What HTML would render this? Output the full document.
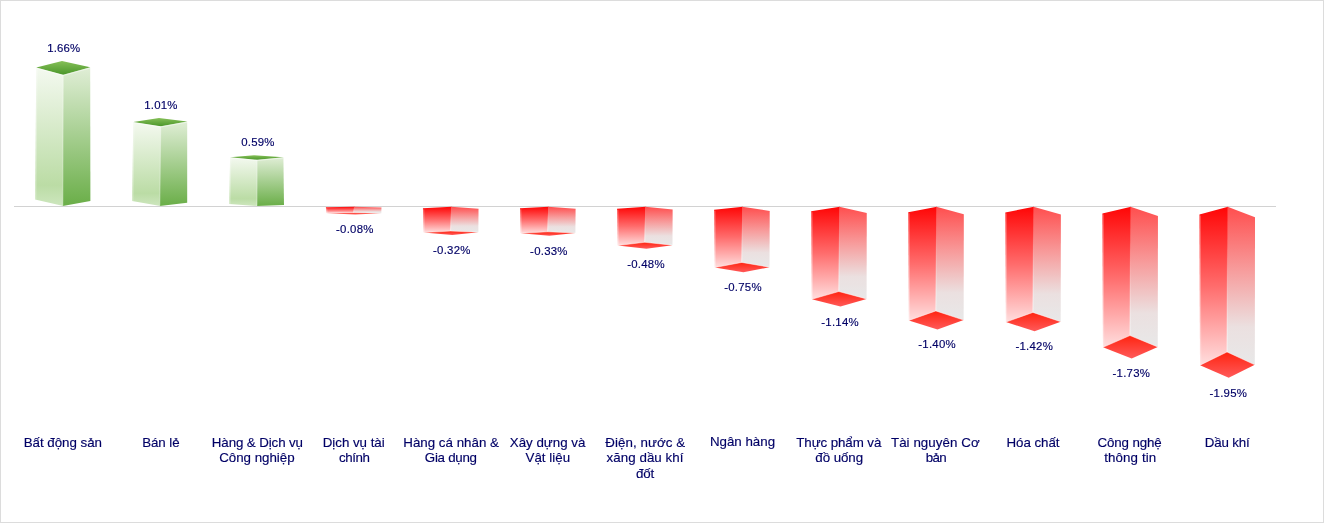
<!DOCTYPE html>
<html lang="vi"><head><meta charset="utf-8"><title>Chart</title>
<style>
html,body{margin:0;padding:0;background:#fff;}
body{width:1324px;height:523px;overflow:hidden;position:relative;}
svg{display:block;position:absolute;left:0;top:0;}
.frame{position:absolute;left:0;top:0;width:1324px;height:523px;border:1px solid #dcdcdc;box-sizing:border-box;}
text{font-family:"Liberation Sans",Arial,sans-serif;fill:#000066;stroke:#000066;stroke-width:0.15px;text-anchor:middle;}
.dl text{font-size:11.4px;}
.hl{fill:none;stroke:#fff;stroke-opacity:0.45;stroke-width:1;}
.hl2{stroke:#fff;stroke-opacity:0.3;stroke-width:1.2;}
.cl text{font-size:13.33px;}
</style></head><body>
<svg width="1324" height="523" viewBox="0 0 1324 523">
<defs>
<linearGradient id="gt" x1="0" y1="0" x2="0" y2="1"><stop offset="0" stop-color="#86c058"/><stop offset="1" stop-color="#4a962a"/></linearGradient>
<linearGradient id="gl" x1="0" y1="0" x2="0" y2="1"><stop offset="0" stop-color="#f4f9f0"/><stop offset="0.85" stop-color="#bbdca5"/><stop offset="1" stop-color="#cde6be"/></linearGradient>
<linearGradient id="gr" x1="0" y1="0" x2="0" y2="1"><stop offset="0" stop-color="#e0eed6"/><stop offset="1" stop-color="#6aae48"/></linearGradient>
<linearGradient id="rl" x1="0" y1="0" x2="0" y2="1"><stop offset="0" stop-color="#ff0606"/><stop offset="0.5" stop-color="#ff6c6c"/><stop offset="1" stop-color="#ffdede"/></linearGradient>
<linearGradient id="rr" x1="0" y1="0" x2="0" y2="1"><stop offset="0" stop-color="#ff4e4e"/><stop offset="0.4" stop-color="#f79c9c"/><stop offset="0.76" stop-color="#ebe0e0"/><stop offset="1" stop-color="#e8e8e8"/></linearGradient>
<linearGradient id="ce" x1="0" y1="0" x2="0" y2="1"><stop offset="0.25" stop-color="#fff" stop-opacity="0"/><stop offset="1" stop-color="#fff" stop-opacity="0.5"/></linearGradient>
<linearGradient id="rb" x1="0" y1="0" x2="0" y2="1"><stop offset="0" stop-color="#ff2410"/><stop offset="1" stop-color="#ff5a5a"/></linearGradient>
</defs>
<rect x="14" y="206" width="1262" height="1" fill="#d2d2d2"/>
<g><polygon points="36.30,67.50 63.80,74.80 63.40,205.90 35.05,199.50" fill="url(#gl)"/>
<polygon points="63.20,74.80 90.20,67.30 90.40,201.00 62.80,205.90" fill="url(#gr)"/>
<polygon points="36.30,67.50 62.00,60.90 90.20,67.30 63.20,74.80" fill="url(#gt)"/>
<polyline points="36.30,68.20 63.20,75.50 90.20,68.00" class="hl"/>
<line x1="63.20" y1="74.80" x2="62.80" y2="205.90" class="hl2"/>
<line x1="37.00" y1="68.50" x2="35.75" y2="199.50" class="hl2"/>
<polygon points="133.30,122.05 161.30,126.30 160.40,205.90 132.05,201.00" fill="url(#gl)"/>
<polygon points="160.70,126.30 187.20,121.50 187.20,202.70 159.80,205.90" fill="url(#gr)"/>
<polygon points="133.30,122.05 159.00,117.90 187.20,121.50 160.70,126.30" fill="url(#gt)"/>
<polyline points="133.30,122.75 160.70,127.00 187.20,122.20" class="hl"/>
<line x1="160.70" y1="126.30" x2="159.80" y2="205.90" class="hl2"/>
<line x1="134.00" y1="123.05" x2="132.75" y2="201.00" class="hl2"/>
<polygon points="230.10,157.20 257.70,159.80 257.60,206.00 229.20,204.00" fill="url(#gl)"/>
<polygon points="257.10,159.80 283.40,157.20 284.00,204.90 257.00,206.00" fill="url(#gr)"/>
<polygon points="230.10,157.20 254.20,155.30 283.40,157.20 257.10,159.80" fill="url(#gt)"/>
<polyline points="230.10,157.90 257.10,160.50 283.40,157.90" class="hl"/>
<line x1="257.10" y1="159.80" x2="257.00" y2="206.00" class="hl2"/>
<line x1="230.80" y1="158.20" x2="229.90" y2="204.00" class="hl2"/>
<polygon points="325.88,207.30 354.58,206.80 354.08,212.70 326.48,213.30" fill="url(#rl)"/>
<polygon points="353.98,206.80 381.48,207.42 381.28,213.20 353.48,212.70" fill="url(#rr)"/>
<polygon points="326.48,213.30 353.48,212.70 381.28,213.20 355.18,214.40" fill="url(#rb)"/>
<polyline points="326.48,213.30 353.48,212.70 381.28,213.20" class="hl"/>
<polygon points="353.38,206.80 354.58,206.80 354.08,212.70 352.88,212.70" fill="url(#ce)"/>
<line x1="326.58" y1="208.30" x2="327.18" y2="213.30" class="hl2"/>
<polygon points="422.94,208.22 451.64,206.80 451.14,231.08 423.54,232.55" fill="url(#rl)"/>
<polygon points="451.04,206.80 478.54,208.66 478.34,232.15 450.54,231.08" fill="url(#rr)"/>
<polygon points="423.54,232.55 450.54,231.08 478.34,232.15 452.24,234.98" fill="url(#rb)"/>
<polyline points="423.54,232.55 450.54,231.08 478.34,232.15" class="hl"/>
<polygon points="450.44,206.80 451.64,206.80 451.14,231.08 449.94,231.08" fill="url(#ce)"/>
<line x1="423.64" y1="209.22" x2="424.24" y2="232.55" class="hl2"/>
<polygon points="520.00,208.25 548.70,206.80 548.20,231.84 520.60,233.36" fill="url(#rl)"/>
<polygon points="548.10,206.80 575.60,208.72 575.40,232.96 547.60,231.84" fill="url(#rr)"/>
<polygon points="520.60,233.36 547.60,231.84 575.40,232.96 549.30,235.87" fill="url(#rb)"/>
<polyline points="520.60,233.36 547.60,231.84 575.40,232.96" class="hl"/>
<polygon points="547.50,206.80 548.70,206.80 548.20,231.84 547.00,231.84" fill="url(#ce)"/>
<line x1="520.70" y1="209.25" x2="521.30" y2="233.36" class="hl2"/>
<polygon points="617.06,208.82 645.76,206.80 645.26,242.31 617.66,245.57" fill="url(#rl)"/>
<polygon points="645.16,206.80 672.66,209.50 672.46,245.17 644.66,242.31" fill="url(#rr)"/>
<polygon points="617.66,245.57 644.66,242.31 672.46,245.17 646.36,248.64" fill="url(#rb)"/>
<polyline points="617.66,245.57 644.66,242.31 672.46,245.17" class="hl"/>
<polygon points="644.56,206.80 645.76,206.80 645.26,242.31 644.06,242.31" fill="url(#ce)"/>
<line x1="617.76" y1="209.82" x2="618.36" y2="245.57" class="hl2"/>
<polygon points="714.12,209.85 742.82,206.80 742.32,262.45 714.72,267.55" fill="url(#rl)"/>
<polygon points="742.22,206.80 769.72,210.90 769.52,267.15 741.72,262.45" fill="url(#rr)"/>
<polygon points="714.72,267.55 741.72,262.45 769.52,267.15 743.42,272.35" fill="url(#rb)"/>
<polyline points="714.72,267.55 741.72,262.45 769.52,267.15" class="hl"/>
<polygon points="741.62,206.80 742.82,206.80 742.32,262.45 741.12,262.45" fill="url(#ce)"/>
<line x1="714.82" y1="210.85" x2="715.42" y2="267.55" class="hl2"/>
<polygon points="811.18,211.33 839.88,206.80 839.38,291.54 811.78,299.30" fill="url(#rl)"/>
<polygon points="839.28,206.80 866.78,212.93 866.58,298.90 838.78,291.54" fill="url(#rr)"/>
<polygon points="811.78,299.30 838.78,291.54 866.58,298.90 840.48,306.59" fill="url(#rb)"/>
<polyline points="811.78,299.30 838.78,291.54 866.58,298.90" class="hl"/>
<polygon points="838.68,206.80 839.88,206.80 839.38,291.54 838.18,291.54" fill="url(#ce)"/>
<line x1="811.88" y1="212.33" x2="812.48" y2="299.30" class="hl2"/>
<polygon points="908.24,212.32 936.94,206.80 936.44,310.94 908.84,320.46" fill="url(#rl)"/>
<polygon points="936.34,206.80 963.84,214.28 963.64,320.06 935.84,310.94" fill="url(#rr)"/>
<polygon points="908.84,320.46 935.84,310.94 963.64,320.06 937.54,329.42" fill="url(#rb)"/>
<polyline points="908.84,320.46 935.84,310.94 963.64,320.06" class="hl"/>
<polygon points="935.74,206.80 936.94,206.80 936.44,310.94 935.24,310.94" fill="url(#ce)"/>
<line x1="908.94" y1="213.32" x2="909.54" y2="320.46" class="hl2"/>
<polygon points="1005.30,212.40 1034.00,206.80 1033.50,312.43 1005.90,322.09" fill="url(#rl)"/>
<polygon points="1033.40,206.80 1060.90,214.38 1060.70,321.69 1032.90,312.43" fill="url(#rr)"/>
<polygon points="1005.90,322.09 1032.90,312.43 1060.70,321.69 1034.60,331.18" fill="url(#rb)"/>
<polyline points="1005.90,322.09 1032.90,312.43 1060.70,321.69" class="hl"/>
<polygon points="1032.80,206.80 1034.00,206.80 1033.50,312.43 1032.30,312.43" fill="url(#ce)"/>
<line x1="1006.00" y1="213.40" x2="1006.60" y2="322.09" class="hl2"/>
<polygon points="1102.36,213.57 1131.06,206.80 1130.56,335.56 1102.96,347.32" fill="url(#rl)"/>
<polygon points="1130.46,206.80 1157.96,216.00 1157.76,346.92 1129.96,335.56" fill="url(#rr)"/>
<polygon points="1102.96,347.32 1129.96,335.56 1157.76,346.92 1131.66,358.39" fill="url(#rb)"/>
<polyline points="1102.96,347.32 1129.96,335.56 1157.76,346.92" class="hl"/>
<polygon points="1129.86,206.80 1131.06,206.80 1130.56,335.56 1129.36,335.56" fill="url(#ce)"/>
<line x1="1103.06" y1="214.57" x2="1103.66" y2="347.32" class="hl2"/>
<polygon points="1199.42,214.41 1228.12,206.80 1227.62,351.97 1200.02,365.23" fill="url(#rl)"/>
<polygon points="1227.52,206.80 1255.02,217.14 1254.82,364.83 1227.02,351.97" fill="url(#rr)"/>
<polygon points="1200.02,365.23 1227.02,351.97 1254.82,364.83 1228.72,377.71" fill="url(#rb)"/>
<polyline points="1200.02,365.23 1227.02,351.97 1254.82,364.83" class="hl"/>
<polygon points="1226.92,206.80 1228.12,206.80 1227.62,351.97 1226.42,351.97" fill="url(#ce)"/>
<line x1="1200.12" y1="215.41" x2="1200.72" y2="365.23" class="hl2"/></g>
<g class="dl"><text x="63.7" y="52.0" textLength="33" lengthAdjust="spacing">1.66%</text>
<text x="160.8" y="109.0" textLength="33" lengthAdjust="spacing">1.01%</text>
<text x="257.8" y="146.4" textLength="33" lengthAdjust="spacing">0.59%</text>
<text x="354.7" y="233.4" textLength="37.4" lengthAdjust="spacing">-0.08%</text>
<text x="451.7" y="254.0" textLength="37.4" lengthAdjust="spacing">-0.32%</text>
<text x="548.8" y="254.9" textLength="37.4" lengthAdjust="spacing">-0.33%</text>
<text x="645.9" y="267.6" textLength="37.4" lengthAdjust="spacing">-0.48%</text>
<text x="742.9" y="291.4" textLength="37.4" lengthAdjust="spacing">-0.75%</text>
<text x="840.0" y="325.6" textLength="37.4" lengthAdjust="spacing">-1.14%</text>
<text x="937.0" y="348.4" textLength="37.4" lengthAdjust="spacing">-1.40%</text>
<text x="1034.1" y="350.2" textLength="37.4" lengthAdjust="spacing">-1.42%</text>
<text x="1131.2" y="377.4" textLength="37.4" lengthAdjust="spacing">-1.73%</text>
<text x="1228.2" y="396.7" textLength="37.4" lengthAdjust="spacing">-1.95%</text></g>
<g class="cl"><text x="62.8" y="446.9" textLength="78.3" lengthAdjust="spacing">Bất động sản</text>
<text x="160.9" y="446.9" textLength="37.3" lengthAdjust="spacing">Bán lẻ</text>
<text x="257.4" y="446.9" textLength="91.2" lengthAdjust="spacing">Hàng &amp; Dịch vụ</text>
<text x="256.9" y="462.2" textLength="75.3" lengthAdjust="spacing">Công nghiệp</text>
<text x="353.7" y="446.9" textLength="62.0" lengthAdjust="spacing">Dịch vụ tài</text>
<text x="354.4" y="462.2" textLength="30.9" lengthAdjust="spacing">chính</text>
<text x="451.1" y="446.9" textLength="95.7" lengthAdjust="spacing">Hàng cá nhân &amp;</text>
<text x="450.9" y="462.2" textLength="52.1" lengthAdjust="spacing">Gia dụng</text>
<text x="547.6" y="446.9" textLength="75.7" lengthAdjust="spacing">Xây dựng và</text>
<text x="547.8" y="462.2" textLength="44.6" lengthAdjust="spacing">Vật liệu</text>
<text x="645.2" y="446.9" textLength="80.0" lengthAdjust="spacing">Điện, nước &amp;</text>
<text x="645.0" y="462.2" textLength="77.0" lengthAdjust="spacing">xăng dầu khí</text>
<text x="645.1" y="477.5" textLength="18.4" lengthAdjust="spacing">đốt</text>
<text x="742.5" y="445.9" textLength="65.1" lengthAdjust="spacing">Ngân hàng</text>
<text x="838.8" y="446.9" textLength="85.0" lengthAdjust="spacing">Thực phẩm và</text>
<text x="839.2" y="462.2" textLength="47.7" lengthAdjust="spacing">đồ uống</text>
<text x="935.3" y="446.9" textLength="88.7" lengthAdjust="spacing">Tài nguyên Cơ</text>
<text x="936.3" y="462.2" textLength="20.9" lengthAdjust="spacing">bản</text>
<text x="1033.0" y="446.9" textLength="52.9" lengthAdjust="spacing">Hóa chất</text>
<text x="1129.6" y="446.9" textLength="64.3" lengthAdjust="spacing">Công nghệ</text>
<text x="1130.2" y="462.2" textLength="52.1" lengthAdjust="spacing">thông tin</text>
<text x="1227.2" y="446.9" textLength="45.1" lengthAdjust="spacing">Dầu khí</text></g>
</svg>
<div class="frame"></div>
</body></html>
